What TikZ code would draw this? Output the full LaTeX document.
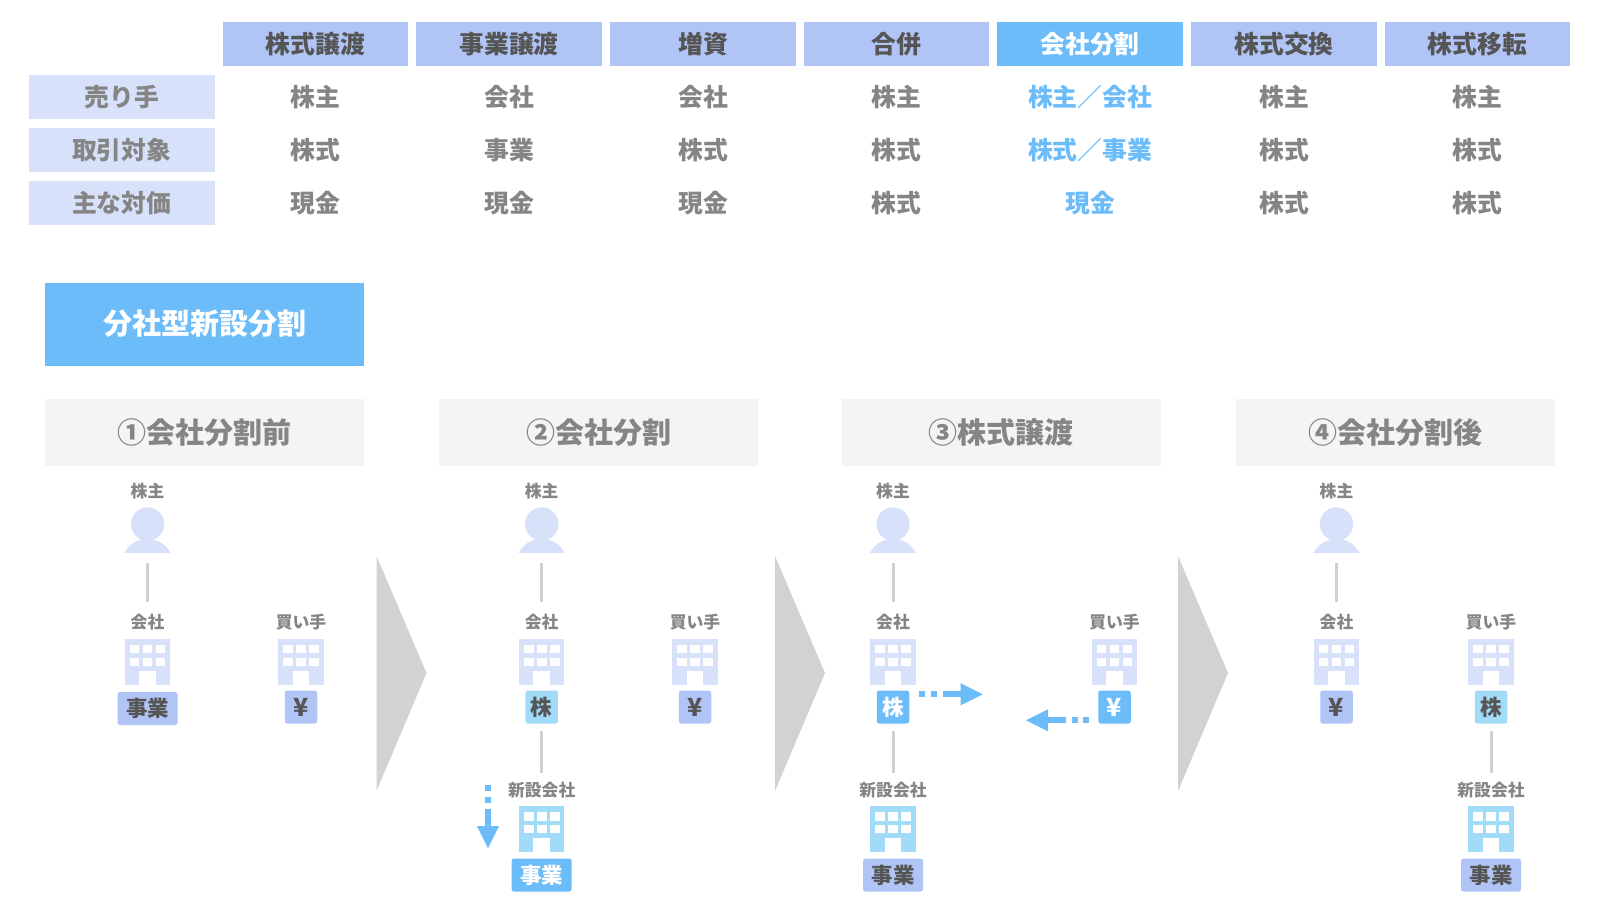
\documentclass[tikz,border=0pt]{standalone}
\usepackage{fontspec}
\setmainfont{Noto Sans CJK JP}
\usetikzlibrary{arrows.meta}
\definecolor{hdr}{HTML}{B0C4F5}
\definecolor{rowbg}{HTML}{D7E1FA}
\definecolor{hi}{HTML}{6CBCF9}
\definecolor{cyanb}{HTML}{A2DBF8}
\definecolor{greytxt}{HTML}{858585}
\definecolor{darktxt}{HTML}{555555}
\definecolor{stepbg}{HTML}{F4F4F6}
\definecolor{tri}{HTML}{D2D2D2}
\definecolor{lnk}{HTML}{D0D0D0}
\newcommand{\fs}[1]{\fontsize{#1}{#1}\selectfont\bfseries}
\newcommand{\dn}[1]{\raisebox{-1pt}{#1}}
\newcommand{\yen}{{\fontsize{25}{25}\selectfont ¥}}
\tikzset{
  x=1pt,y=-1pt,
  box/.style={inner sep=0pt,outer sep=0pt,align=center},
  hdrcell/.style={box,minimum width=185.5pt,minimum height=44.5pt,font=\fs{24.8}},
  bodycell/.style={box,minimum width=185.5pt,minimum height=44.5pt,font=\fs{24.8},text=greytxt},
  stepbox/.style={box,fill=stepbg,minimum width=319pt,minimum height=67pt,font=\fs{29},text=greytxt},
  smalllabel/.style={box,minimum height=18pt,font=\fs{16.8},text=greytxt},
  tagbox/.style={box,rounded corners=2.5pt,minimum height=33pt,font=\fs{21.5},text=darktxt},
  tagwide/.style={tagbox,minimum width=60pt},
  tagnarrow/.style={tagbox,minimum width=32.5pt},
  link/.style={draw=lnk,line width=3pt},
  flow/.style={draw=hi,line width=6pt,-{Triangle[length=22pt,width=22pt,line width=0pt]}},
  person/.style={box,minimum width=46pt,minimum height=46pt,
    path picture={\begin{scope}[shift={(path picture bounding box.center)}]
      \fill[rowbg] (0,-6) circle[radius=16.7];
      \fill[rowbg] (-23,23) .. controls (-18,13) and (-9,9) .. (0,9) .. controls (9,9) and (18,13) .. (23,23) -- cycle;
    \end{scope}}},
  bldg/.style={box,fill=#1,minimum width=45.5pt,minimum height=45.5pt,
    path picture={\begin{scope}[shift={(path picture bounding box.center)}]
      \foreach \wx in {-17.9,-4.9,8.1}{\foreach \wy in {-16.9,-4.2}{
        \fill[white] (\wx,\wy) rectangle ++(9.7,8.4);}}
      \fill[white] (-8.4,9.3) rectangle (8.4,23);
    \end{scope}}},
  flowtri/.style={fill=tri},
}
\begin{document}
\begin{tikzpicture}
\useasboundingbox (0,0) rectangle (1600,900);
% table header
\foreach \nm/\cx/\txt in {a/315.25/株式譲渡,b/509/事業譲渡,c/703/増資,d/896.25/合併,f/1284/株式交換,g/1477.5/株式移転}
  \node[hdrcell,fill=hdr,text=darktxt] (h\nm) at (\cx,43.75) {\dn{\txt}};
\node[hdrcell,fill=hi,text=white] (he) at (1090,43.75) {\dn{会社分割}};
% row labels
\foreach \nm/\cy/\txt in {1/96.75/売り手,2/150/取引対象,3/203/主な対価}
  \node[hdrcell,fill=rowbg,text=greytxt] (r\nm) at (121.75,\cy) {\dn{\txt}};
% cells
\foreach \nm/\cx/\p/\q/\r in {a/315.25/株主/株式/現金,b/509/会社/事業/現金,c/703/会社/株式/現金,d/896.25/株主/株式/株式,f/1284/株主/株式/株式,g/1477.5/株主/株式/株式}{
  \node[bodycell] (\nm1) at (\cx,96.75) {\dn{\p}};
  \node[bodycell] (\nm2) at (\cx,150) {\dn{\q}};
  \node[bodycell] (\nm3) at (\cx,203) {\dn{\r}};
}
\node[bodycell,text=hi] (e1) at (1090,96.75) {\dn{株主／会社}};
\node[bodycell,text=hi] (e2) at (1090,150) {\dn{株式／事業}};
\node[bodycell,text=hi] (e3) at (1090,203) {\dn{現金}};
% title
\node[box,fill=hi,text=white,minimum width=319pt,minimum height=83pt,font=\fs{29}] (title) at (204.5,324) {分社型新設分割};
% steps
\node[stepbox] (s1) at (204.5,432.5) {\dn{①会社分割前}};
\node[stepbox] (s2) at (598.8,432.5) {\dn{②会社分割}};
\node[stepbox] (s3) at (1001,432.5) {\dn{③株式譲渡}};
\node[stepbox] (s4) at (1395.5,432.5) {\dn{④会社分割後}};
% chevrons
\fill[flowtri] (376.5,556) -- (426.5,673) -- (376.5,791) -- cycle;
\fill[flowtri] (775,556) -- (825,673) -- (775,791) -- cycle;
\fill[flowtri] (1178,556) -- (1228,673) -- (1178,791) -- cycle;
% step 1
\node[smalllabel] (l1p) at (147.5,491) {株主};
\node[person] (p1) at (147.5,530) {};
\node[smalllabel] (l1c) at (147.5,622) {会社};
\node[bldg=rowbg] (b1c) at (147.5,661.75) {};
\node[tagwide,fill=hdr] (t1c) at (147.5,708.5) {\dn{事業}};
\node[smalllabel] (l1b) at (301,622) {買い手};
\node[bldg=rowbg] (b1b) at (301,661.75) {};
\node[tagnarrow,fill=hdr] (t1b) at (301,707) {\yen};
\draw[link,shorten <=10pt,shorten >=11pt] (p1) -- (l1c);
% step 2
\node[smalllabel] (l2p) at (541.7,491) {株主};
\node[person] (p2) at (541.7,530) {};
\node[smalllabel] (l2c) at (541.7,622) {会社};
\node[bldg=rowbg] (b2c) at (541.7,661.75) {};
\node[tagnarrow,fill=cyanb] (t2c) at (541.7,707) {\dn{株}};
\node[smalllabel] (l2n) at (541.7,790.5) {新設会社};
\node[bldg=cyanb] (b2n) at (541.7,829) {};
\node[tagwide,fill=hi,text=white] (t2n) at (541.7,875) {\dn{事業}};
\node[smalllabel] (l2b) at (695,622) {買い手};
\node[bldg=rowbg] (b2b) at (695,661.75) {};
\node[tagnarrow,fill=hdr] (t2b) at (695,707) {\yen};
\draw[link,shorten <=10pt,shorten >=11pt] (p2) -- (l2c);
\draw[link,shorten <=7pt,shorten >=9pt] (t2c) -- (l2n);
\coordinate (f2s) at (488,785);
\coordinate (f2e) at (488,848);
\draw[flow,dash pattern=on 6pt off 6pt on 6pt off 6pt on 60pt off 0pt] (f2s) -- (f2e);
% step 3
\node[smalllabel] (l3p) at (893,491) {株主};
\node[person] (p3) at (893,530) {};
\node[smalllabel] (l3c) at (893,622) {会社};
\node[bldg=rowbg] (b3c) at (893,661.75) {};
\node[tagnarrow,fill=hi,text=white] (t3c) at (893,707) {\dn{株}};
\node[smalllabel] (l3n) at (893,790.5) {新設会社};
\node[bldg=cyanb] (b3n) at (893,829) {};
\node[tagwide,fill=hdr] (t3n) at (893,875) {\dn{事業}};
\node[smalllabel] (l3b) at (1114.5,622) {買い手};
\node[bldg=rowbg] (b3b) at (1114.5,661.75) {};
\node[tagnarrow,fill=hi,text=white] (t3b) at (1114.5,707) {\yen};
\draw[link,shorten <=10pt,shorten >=11pt] (p3) -- (l3c);
\draw[link,shorten <=7pt,shorten >=9pt] (t3c) -- (l3n);
\coordinate (f3s) at (919,694.3);
\coordinate (f3e) at (982.7,694.3);
\draw[flow,dash pattern=on 6pt off 6pt on 6pt off 6pt on 60pt off 0pt] (f3s) -- (f3e);
\coordinate (f4s) at (1089,720.3);
\coordinate (f4e) at (1026,720.3);
\draw[flow,dash pattern=on 6pt off 5pt on 6pt off 6pt on 60pt off 0pt] (f4s) -- (f4e);
% step 4
\node[smalllabel] (l4p) at (1336.5,491) {株主};
\node[person] (p4) at (1336.5,530) {};
\node[smalllabel] (l4c) at (1336.5,622) {会社};
\node[bldg=rowbg] (b4c) at (1336.5,661.75) {};
\node[tagnarrow,fill=hdr] (t4c) at (1336.5,707) {\yen};
\node[smalllabel] (l4b) at (1491,622) {買い手};
\node[bldg=rowbg] (b4b) at (1491,661.75) {};
\node[tagnarrow,fill=cyanb] (t4b) at (1491,707) {\dn{株}};
\node[smalllabel] (l4n) at (1491,790.5) {新設会社};
\node[bldg=cyanb] (b4n) at (1491,829) {};
\node[tagwide,fill=hdr] (t4n) at (1491,875) {\dn{事業}};
\draw[link,shorten <=10pt,shorten >=11pt] (p4) -- (l4c);
\draw[link,shorten <=7pt,shorten >=9pt] (t4b) -- (l4n);
\end{tikzpicture}
\end{document}
